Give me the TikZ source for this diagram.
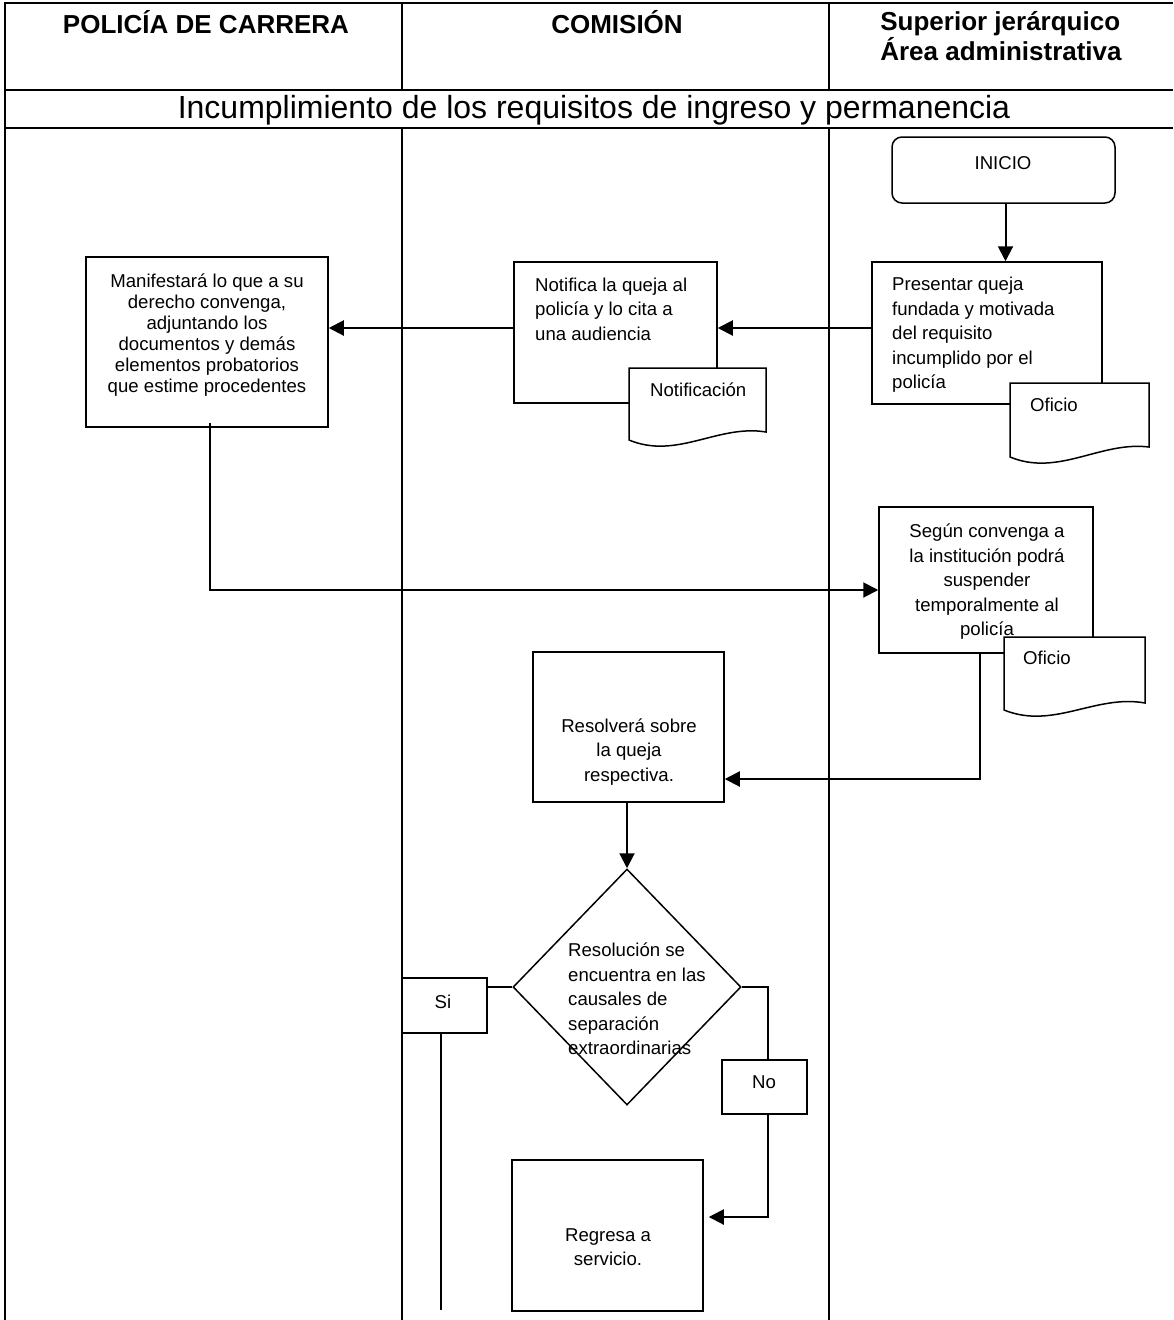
\documentclass[tikz,border=0pt]{standalone}
\usepackage{fontspec}
\setmainfont{Liberation Sans}
\usetikzlibrary{arrows.meta,shapes.geometric}
\newcommand\fsb{\fontsize{18.6}{24.5}\selectfont}
\newcommand\fsm{\fontsize{18.6}{21}\selectfont}
\newcommand\fsh{\fontsize{26}{28}\selectfont\bfseries}
\newcommand\fst{\fontsize{32}{36}\selectfont}
% document shape: L R T BL BR
\newcommand\docshape[5]{%
  \draw[docbox] (#1,#3) -- (#2,#3) -- (#2,#5)
    .. controls ({#1+0.65*(#2-#1)},{#4-16}) and ({#1+0.35*(#2-#1)},{#4+20}) .. (#1,#4) -- cycle;}
\begin{document}
\begin{tikzpicture}[x=1pt,y=-1pt,
  tbl/.style={line width=2pt},
  box/.style={draw,line width=1.5pt,fill=white,inner sep=0pt},
  docbox/.style={draw,line width=1.5pt,fill=white},
  txt/.style={inner sep=0pt,font=\fsb,align=left},
  ctxt/.style={inner sep=0pt,font=\fsb,align=center},
  hdr/.style={inner sep=0pt,font=\fsh,align=left},
  arr/.style={line width=2pt,-{Triangle[length=15pt,width=15pt]}},
  conn/.style={line width=2pt}]
\useasboundingbox (0,0) rectangle (1173,1320);
% table
\draw[tbl] (5,3) -- (1173,3);
\draw[tbl] (5,90) -- (1173,90);
\draw[tbl] (5,128) -- (1173,128);
\draw[tbl] (5,2) -- (5,1320);
\draw[tbl] (402,3) -- (402,90);
\draw[tbl] (829,3) -- (829,90);
\draw[tbl] (402,128) -- (402,1320);
\draw[tbl] (829,128) -- (829,1320);
% headers
\node[hdr] (h1) at (206,22) {POLICÍA DE CARRERA};
\node[hdr] (h2) at (617,22) {COMISIÓN};
\node[hdr] (h3) at (1001,36) {Superior jerárquico\\Área administrativa};
\node[inner sep=0pt,font=\fst] (title) at (594,110) {Incumplimiento de los requisitos de ingreso y permanencia};
% boxes
\node[box,rounded corners=10pt,minimum width=223pt,minimum height=66pt] (inicio) at (1003.5,170) {};
\node[box,minimum width=230pt,minimum height=142pt] (presentar) at (987,333) {};
\node[box,minimum width=203pt,minimum height=141pt] (notifica) at (615.5,332.5) {};
\node[box,minimum width=242pt,minimum height=170pt] (manif) at (207,342) {};
\node[box,minimum width=214pt,minimum height=146pt] (segun) at (986,580) {};
\node[box,minimum width=191pt,minimum height=150pt] (resolv) at (628.5,727) {};
\node[box,diamond,minimum width=228pt,minimum height=236pt] (dec) at (627,987) {};
\node[box,minimum width=85pt,minimum height=55pt] (si) at (444.5,1005.5) {};
\node[box,minimum width=85pt,minimum height=54pt] (no) at (764.5,1087) {};
\node[box,minimum width=191pt,minimum height=151pt] (regresa) at (607.5,1235.5) {};
% documents
\docshape{629}{766}{368}{440}{432}
\docshape{1010}{1149}{383}{457}{447}
\docshape{1004}{1145}{637}{710}{703}
% texts
\node[ctxt] (t-inicio) at (1003,163) {INICIO};
\node[txt,anchor=west] (t-pres) at (892,335) {Presentar queja\\fundada y motivada\\del requisito\\incumplido por el\\policía};
\node[txt,anchor=west] (t-of1) at (1030,405) {Oficio};
\node[txt,anchor=west] (t-notif) at (535,309) {Notifica la queja al\\policía y lo cita a\\una audiencia};
\node[txt,anchor=west] (t-notdoc) at (650,390) {Notificación};
\node[inner sep=0pt,font=\fsm,align=center] (t-manif) at (207,335.5) {Manifestará lo que a su\\derecho convenga,\\adjuntando los\\documentos y demás\\elementos probatorios\\que estime procedentes};
\node[ctxt] (t-segun) at (987,582) {Según convenga a\\la institución podrá\\suspender\\temporalmente al\\policía};
\node[txt,anchor=west] (t-of2) at (1023,658) {Oficio};
\node[ctxt] (t-resolv) at (629,752) {Resolverá sobre\\la queja\\respectiva.};
\node[txt,anchor=west] (t-dec) at (568,999) {Resolución se\\encuentra en las\\causales de\\separación\\extraordinarias};
\node[ctxt] (t-si) at (443,1002) {Si};
\node[ctxt] (t-no) at (764,1082) {No};
\node[ctxt] (t-reg) at (608,1247) {Regresa a\\servicio.};
% connectors
\draw[arr] ([xshift=2pt]inicio.south) -- ([xshift=2pt]inicio.south |- presentar.north);
\draw[arr] ([yshift=5pt]presentar.west) -- ([yshift=5pt]presentar.west -| notifica.east);
\draw[arr] ([yshift=4.5pt]notifica.west) -- ([yshift=4.5pt]notifica.west -| manif.east);
\draw[arr] ([xshift=3pt,yshift=5pt]manif.south) |- ([yshift=-10pt]segun.west);
\draw[arr] ([xshift=-6pt]segun.south) |- ([yshift=-52pt]resolv.east);
\draw[arr] (resolv.south -| dec.north) -- (dec.north);
\draw[conn] (dec.west) -- (dec.west -| si.east);
\coordinate (siend) at (441,1310);
\draw[conn] (si.south -| siend) -- (siend);
\draw[conn] (dec.east) -| ([xshift=3.5pt]no.north);
\draw[arr] ([xshift=3.5pt]no.south) |- ([xshift=5pt,yshift=18.5pt]regresa.east);
\end{tikzpicture}
\end{document}
